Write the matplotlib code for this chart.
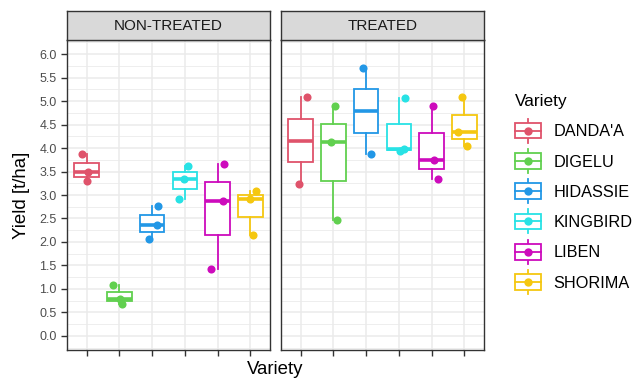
import numpy as np
import matplotlib.pyplot as plt
from matplotlib.legend_handler import HandlerBase
from matplotlib.patches import Rectangle
from matplotlib.lines import Line2D
from matplotlib.ticker import MultipleLocator

plt.rcParams['font.family'] = ['Liberation Sans', 'DejaVu Sans']

varieties = ["DANDA'A", "DIGELU", "HIDASSIE", "KINGBIRD", "LIBEN", "SHORIMA"]
colors = ['#DF536B', '#61D04F', '#2297E6', '#28E2E5', '#CD0BBC', '#F5C710']
treatments = ['NON-TREATED', 'TREATED']

# yield [t/ha] per variety (plots)
yield_nt = [[3.88, 3.48, 3.30], [1.08, 0.78, 0.69], [2.76, 2.37, 2.07],
            [3.62, 3.35, 2.91], [3.67, 2.88, 1.43], [3.08, 2.92, 2.14]]
yield_t = [[5.08, 3.23], [4.90, 4.12, 2.47], [5.71, 3.87],
           [5.07, 3.94, 3.97], [4.90, 3.74, 3.35], [5.08, 4.34, 4.05]]
# horizontal jitter of the points
jitter_nt = [[-0.13, 0.04, 0.02], [-0.20, 0.02, 0.07], [0.17, 0.15, -0.11],
             [0.11, -0.04, -0.17], [0.18, 0.15, -0.19], [0.18, -0.02, 0.08]]
jitter_t = [[0.18, -0.04], [0.05, -0.07, 0.12], [-0.09, 0.15],
            [0.20, 0.02, 0.15], [0.05, 0.08, 0.18], [-0.08, -0.18, 0.08]]

W, H = 632, 381
fig = plt.figure(figsize=(W/100, H/100), dpi=100)

dark = '#333333'
gridc = '#EBEBEB'
lw = 1.3

panels = [(67, yield_nt, jitter_nt), (281, yield_t, jitter_t)]
for i, (px, ys, js) in enumerate(panels):
    ax = fig.add_axes([px/W, 1-350/H, 203/W, 310/H])
    pos = np.arange(1, len(varieties)+1)
    bp = ax.boxplot(ys, positions=pos, widths=0.75, patch_artist=True,
                    showfliers=False, showcaps=False, whis=1.5, zorder=3)
    for k, c in enumerate(colors):
        bp['boxes'][k].set(facecolor='white', edgecolor=c, lw=lw)
        bp['medians'][k].set(color=c, lw=2.6)
        for w in bp['whiskers'][2*k:2*k+2]:
            w.set(color=c, lw=lw)
        ax.scatter(pos[k] + np.array(js[k]), ys[k], s=34, color=c,
                   zorder=5, linewidths=0)
    ax.set_xlim(0.4, 6.6)
    ax.set_ylim(-0.3, 6.3)
    ax.yaxis.set_major_locator(MultipleLocator(0.5))
    ax.yaxis.set_minor_locator(MultipleLocator(0.25))
    ax.set_xticks(pos)
    ax.set_xticklabels([])
    ax.grid(True, which='major', color=gridc, lw=1.1, zorder=0)
    ax.grid(True, which='minor', axis='y', color=gridc, lw=0.6, zorder=0)
    ax.set_axisbelow(True)
    ax.tick_params(which='minor', length=0)
    ax.tick_params(which='major', length=4, width=1, color=dark,
                   labelcolor='#4D4D4D', labelsize=9, pad=3.5)
    for s in ax.spines.values():
        s.set_color(dark)
        s.set_linewidth(1)
    if i == 0:
        ax.yaxis.set_major_formatter(plt.FormatStrFormatter('%.1f'))
    else:
        ax.tick_params(axis='y', left=False, labelleft=False)

    # facet strip
    sx = fig.add_axes([px/W, 1-40/H, 203/W, 29/H])
    sx.set_facecolor('#D9D9D9')
    sx.set_xticks([])
    sx.set_yticks([])
    for s in sx.spines.values():
        s.set_color(dark)
        s.set_linewidth(1)
    sx.text(0.5, 0.47, treatments[i], ha='center', va='center',
            fontsize=11, color='#1A1A1A', transform=sx.transAxes)

fig.text(275.5/W, 1-369/H, 'Variety', ha='center', va='center', fontsize=13.4)
fig.text(22/W, 1-195/H, 'Yield [t/ha]', ha='center', va='center',
         rotation=90, fontsize=13.4)


class BoxKey(HandlerBase):
    def create_artists(self, legend, orig_handle, xdescent, ydescent,
                       width, height, fontsize, trans):
        c = orig_handle.get_color()
        x0 = -xdescent
        cx = x0 + width/2
        cy = -ydescent + height/2
        bh = 11.3
        wl = Line2D([cx, cx], [cy - 8.6, cy + 8.6], color=c, lw=lw, transform=trans)
        r = Rectangle((x0, cy - bh/2), width, bh, facecolor='white',
                      edgecolor=c, lw=lw, transform=trans)
        med = Line2D([x0, x0 + width], [cy, cy], color=c, lw=lw, transform=trans)
        pt = Line2D([cx], [cy], marker='o', ms=6, mew=0, color=c, transform=trans)
        return [wl, r, med, pt]


handles = [Line2D([], [], color=c) for c in colors]
fig.legend(handles, varieties, loc='upper left',
           bbox_to_anchor=(515/W, 1-94/H), frameon=False,
           title='Variety', title_fontsize=12.4, fontsize=11.7,
           handler_map={Line2D: BoxKey()}, handlelength=1.57,
           handleheight=0.7, handletextpad=0.8, labelspacing=0.94,
           borderpad=0, borderaxespad=0, alignment='left')

fig.savefig('out.png', dpi=100)
